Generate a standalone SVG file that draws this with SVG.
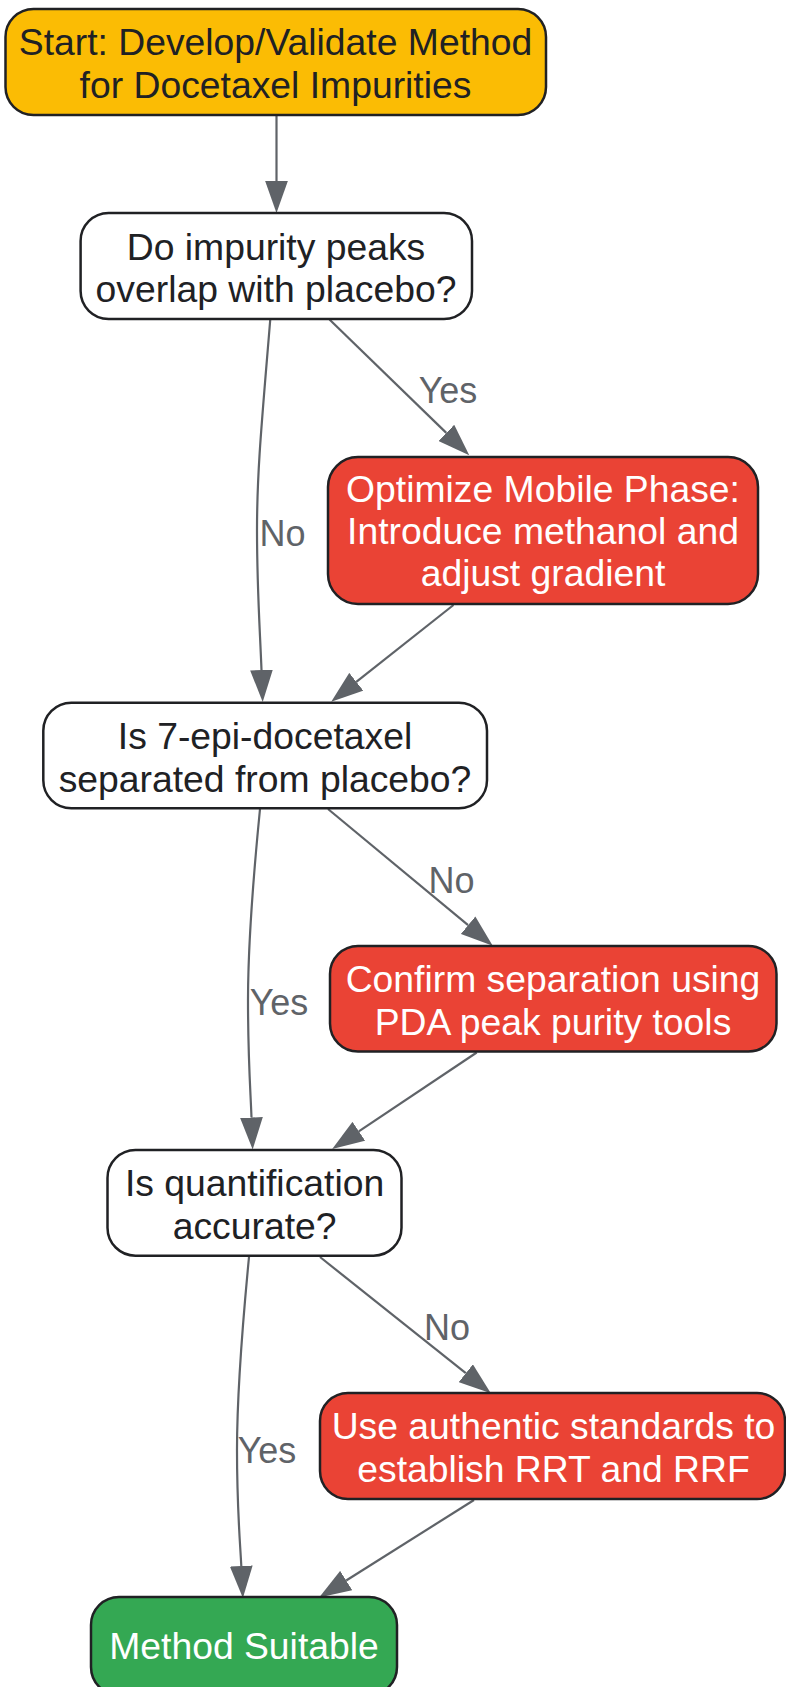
<svg xmlns="http://www.w3.org/2000/svg" width="786" height="1687" viewBox="0 0 786 1687">
<style>
.node rect{stroke:#202124;stroke-width:2.5}
.t{font-family:"Liberation Sans",Arial,sans-serif;font-size:37.3px;text-anchor:middle}
.dark{fill:#202124}
.light{fill:#ffffff}
.edge{fill:none;stroke:#5f6368;stroke-width:2.2}
.lbl{font-family:"Liberation Sans",Arial,sans-serif;font-size:36px;text-anchor:middle;fill:#5f6368}
</style>
<defs>
<marker id="arr" markerUnits="userSpaceOnUse" markerWidth="32" markerHeight="23" viewBox="0 0 31 22" refX="0" refY="11" orient="auto">
<path d="M0,0 L31,11 L0,22 z" fill="#5f6368"/>
</marker>
</defs>
<rect width="786" height="1687" fill="#ffffff"/>
<g id="edges">
<path class="edge" marker-end="url(#arr)" d="M276.5,115 L276.5,181"/>
<path class="edge" marker-end="url(#arr)" d="M329.5,319.5 L446.3,432.9"/>
<path class="edge" marker-end="url(#arr)" d="M270.3,319 C262,420 257,470 257,530 C257,590 260,630 261.5,670"/>
<path class="edge" marker-end="url(#arr)" d="M453.5,605 L356.3,681.8"/>
<path class="edge" marker-end="url(#arr)" d="M328,809 L468.1,925.2"/>
<path class="edge" marker-end="url(#arr)" d="M260,809 C252,890 248,950 248,1000 C248,1060 250.5,1090 251.5,1117.5"/>
<path class="edge" marker-end="url(#arr)" d="M476.7,1052.5 L358.8,1131.3"/>
<path class="edge" marker-end="url(#arr)" d="M320,1257 L465.8,1373.2"/>
<path class="edge" marker-end="url(#arr)" d="M249,1257 C241,1340 237,1400 237,1450 C237,1510 240,1540 241.3,1566"/>
<path class="edge" marker-end="url(#arr)" d="M474,1500 L346.2,1580.5"/>
<text class="lbl" x="448" y="403">Yes</text>
<text class="lbl" x="282.5" y="545.5">No</text>
<text class="lbl" x="451.5" y="893">No</text>
<text class="lbl" x="279" y="1014.5">Yes</text>
<text class="lbl" x="447" y="1340">No</text>
<text class="lbl" x="267" y="1462.5">Yes</text>
</g>
<g id="start" class="node">
<rect x="5.5" y="9" width="540.5" height="106" rx="28" fill="#fbbc04"/>
<text class="t dark" x="275.5" y="55">Start: Develop/Validate Method</text>
<text class="t dark" x="275.5" y="97.5">for Docetaxel Impurities</text>
</g>
<g id="q1" class="node">
<rect x="80.6" y="213" width="391.4" height="106" rx="28" fill="#ffffff"/>
<text class="t dark" x="276" y="259.5">Do impurity peaks</text>
<text class="t dark" x="276" y="302">overlap with placebo?</text>
</g>
<g id="optimize" class="node">
<rect x="328" y="457" width="430" height="147" rx="30" fill="#ea4335"/>
<text class="t light" x="543" y="501.5">Optimize Mobile Phase:</text>
<text class="t light" x="543" y="544">Introduce methanol and</text>
<text class="t light" x="543" y="586">adjust gradient</text>
</g>
<g id="q2" class="node">
<rect x="43.3" y="702.7" width="443.7" height="105.6" rx="28" fill="#ffffff"/>
<text class="t dark" x="265" y="748.5">Is 7-epi-docetaxel</text>
<text class="t dark" x="265" y="791.5">separated from placebo?</text>
</g>
<g id="confirm" class="node">
<rect x="330" y="946" width="446.5" height="105.5" rx="28" fill="#ea4335"/>
<text class="t light" x="553" y="992">Confirm separation using</text>
<text class="t light" x="553" y="1035">PDA peak purity tools</text>
</g>
<g id="q3" class="node">
<rect x="107.5" y="1150" width="294" height="105.7" rx="28" fill="#ffffff"/>
<text class="t dark" x="254.6" y="1196">Is quantification</text>
<text class="t dark" x="254.6" y="1239">accurate?</text>
</g>
<g id="standards" class="node">
<rect x="320" y="1393" width="465" height="106" rx="28" fill="#ea4335"/>
<text class="t light" x="553.5" y="1439">Use authentic standards to</text>
<text class="t light" x="553.5" y="1482">establish RRT and RRF</text>
</g>
<g id="suitable" class="node">
<rect x="91" y="1597" width="306" height="98" rx="28" fill="#34a853"/>
<text class="t light" x="244" y="1659">Method Suitable</text>
</g>
</svg>
